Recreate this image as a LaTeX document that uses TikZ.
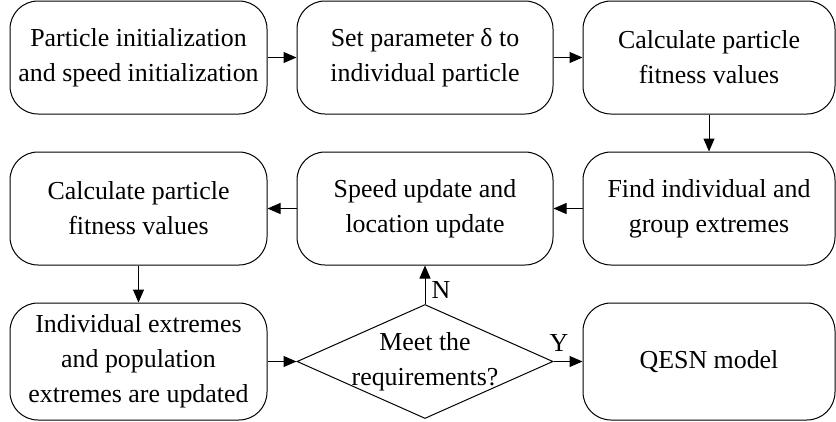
\documentclass[tikz,border=0pt]{standalone}
\usepackage{fontspec}
\setmainfont{Liberation Serif}
\usetikzlibrary{shapes.geometric,arrows.meta}
\begin{document}
\begin{tikzpicture}[x=1pt,y=-1pt,
  txt/.style={font=\fontsize{25.9}{35}\selectfont, align=center, inner sep=0pt},
  box/.style={txt, draw, rounded corners=28pt, line width=1pt},
  dia/.style={draw, diamond, line width=1pt, inner sep=0pt, minimum width=256pt, minimum height=114pt},
  arr/.style={-{Triangle[length=13pt,width=11pt]}, line width=1pt}]
\useasboundingbox (0,0) rectangle (836,421);
% row 1
\node[box, minimum width=257pt, minimum height=113pt] (b1) at (138.5,57.5) {Particle initialization\\and speed initialization};
\node[box, minimum width=256pt, minimum height=113pt] (b2) at (425,57.5) {Set parameter δ to\\individual particle};
\node[box, minimum width=252pt, minimum height=113pt] (b3) at (709,57.5) {Calculate particle\\fitness values};
% row 2
\node[box, minimum width=257pt, minimum height=113pt] (b4) at (138.5,208.5) {Calculate particle\\fitness values};
\node[box, minimum width=256pt, minimum height=113pt] (b5) at (425,208.5) {Speed update and\\location update};
\node[box, minimum width=252pt, minimum height=113pt] (b6) at (709,208.5) {Find individual and\\group extremes};
% row 3
\node[box, minimum width=257pt, minimum height=117pt] (b7) at (138.5,361.5) {Individual extremes\\and population\\extremes are updated};
\node[dia] (d) at (425,361.5) {};
\node[txt] (dt) at (425,362) {Meet the\\requirements?};
\node[box, minimum width=252pt, minimum height=117pt] (q) at (709,361.5) {QESN model};
% connectors
\draw[arr] (b1) -- (b2);
\draw[arr] (b2) -- (b3);
\draw[arr] (b3) -- (b6);
\draw[arr] (b6) -- (b5);
\draw[arr] (b5) -- (b4);
\draw[arr] (b4) -- (b7);
\draw[arr] (b7) -- (d);
\draw[arr] (d) -- (q);
\draw[arr] (d) -- (b5);
\node[txt] (ln) at (441,290) {N};
\node[txt] (ly) at (559,343) {Y};
\end{tikzpicture}
\end{document}
